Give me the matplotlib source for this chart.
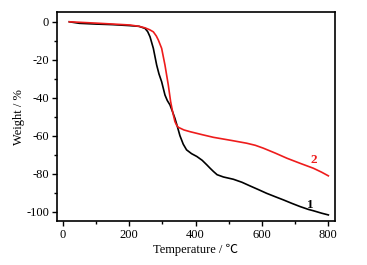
import matplotlib
matplotlib.use("Agg")
import matplotlib.pyplot as plt
from matplotlib.ticker import MultipleLocator

t1 = [20, 50, 100, 150, 200, 230, 248, 256, 263, 273, 283, 290, 298, 308, 315, 323, 330, 338, 345, 353, 363, 373, 388, 404, 420, 434, 444, 454, 465, 484, 514, 540, 564, 590, 614, 640, 665, 690, 715, 740, 755, 780, 800]
w1 = [0, -0.8, -1.2, -1.5, -2.0, -2.4, -3.5, -5.2, -7.9, -14, -22.8, -27.5, -31.6, -38.6, -41.5, -43.8, -47, -50.9, -55, -60, -64.5, -67.5, -69.5, -71, -73, -75.4, -77.2, -78.9, -80.6, -81.8, -83, -84.6, -86.5, -88.5, -90.4, -92.2, -93.9, -95.7, -97.4, -98.9, -99.6, -100.9, -101.8]

t2 = [20, 100, 203, 230, 248, 262, 273, 282, 288, 298, 308, 318, 325, 331, 338, 343, 348, 365, 383, 420, 454, 510, 554, 580, 604, 640, 675, 715, 755, 780, 800]
w2 = [0, -0.7, -1.7, -2.4, -3.2, -4.2, -5.3, -7.5, -9.6, -14, -22.8, -33.3, -42, -47.4, -52.6, -54.5, -55.6, -57, -57.9, -59.5, -60.9, -62.6, -64, -65.1, -66.6, -69.2, -71.9, -74.6, -77.2, -79.3, -81.2]

xticks = [0, 200, 400, 600, 800]
yticks = [0, -20, -40, -60, -80, -100]

plt.rcParams['font.family'] = ['Liberation Serif', 'Noto Sans CJK SC', 'DejaVu Serif']
plt.rcParams['axes.unicode_minus'] = False

fig = plt.figure(figsize=(3.67, 2.65), dpi=100)
fig.patch.set_facecolor('white')
ax = fig.add_axes([56.7/367, 1 - 221/265, (335 - 56.7)/367, (221 - 12.3)/265])
ax.plot(t1, w1, color='black', lw=1.2)
ax.plot(t2, w2, color='#ee1c1c', lw=1.2)
ax.set_xlim(-18, 820)
ax.set_ylim(-105, 5)
ax.set_xticks(xticks)
ax.set_yticks(yticks)
ax.xaxis.set_minor_locator(MultipleLocator(100))
ax.yaxis.set_minor_locator(MultipleLocator(10))
ax.tick_params(which='both', direction='out', labelsize=9, width=1, pad=2)
ax.tick_params(which='major', length=3.5)
ax.tick_params(which='minor', length=2)
ax.tick_params(top=False, right=False)
for s in ax.spines.values():
    s.set_linewidth(1.2)
ax.set_xlabel('Temperature / ℃', fontsize=9, labelpad=2)
ax.set_ylabel('Weight / %', fontsize=9, labelpad=1)
ax.text(745, -96.5, '1', fontsize=9.5, fontweight='bold', color='black', ha='center', va='center')
ax.text(757, -72.8, '2', fontsize=9.5, fontweight='bold', color='#ee1c1c', ha='center', va='center')

fig.savefig('out.png', dpi=100, facecolor='white')
